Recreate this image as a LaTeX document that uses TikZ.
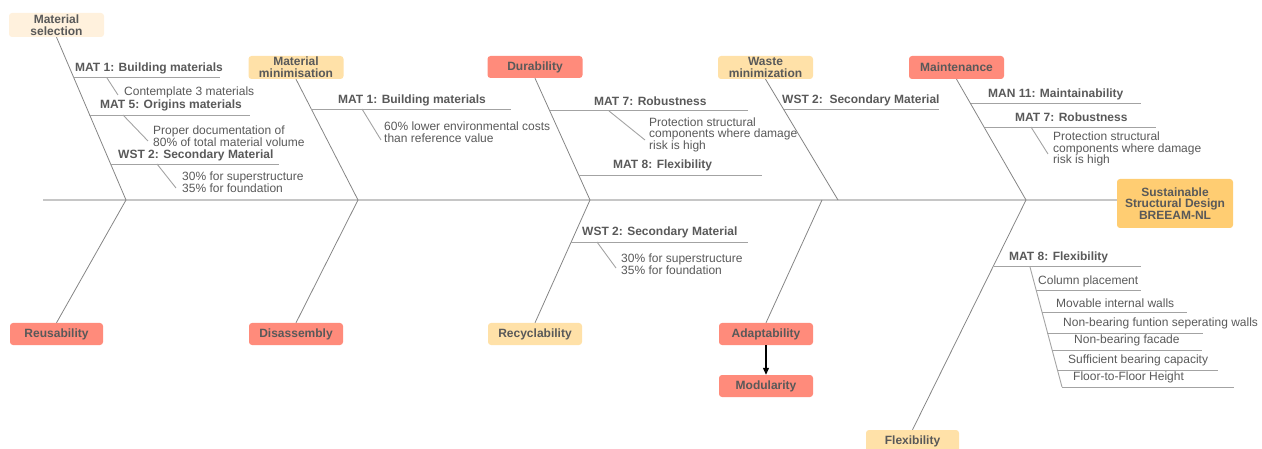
\documentclass[tikz,border=0pt]{standalone}
\usepackage{fontspec}
\setmainfont{Liberation Sans}
\usetikzlibrary{arrows.meta}

\definecolor{salmon}{HTML}{FF8B7B}
\definecolor{paleorange}{HTML}{FFE1A8}
\definecolor{cream}{HTML}{FFF1DD}
\definecolor{headorange}{HTML}{FFCD72}
\definecolor{txtgray}{HTML}{595959}
\definecolor{bonegray}{HTML}{858585}
\definecolor{twiggray}{HTML}{A3A3A3}
\definecolor{spinegray}{HTML}{C6C6C6}

\tikzset{
  catbox/.style={rounded corners=3pt, minimum width=95pt, minimum height=23pt,
    inner sep=1pt, align=center, font=\bfseries\fontsize{12}{11.8}\selectfont},
  code/.style={anchor=west, inner sep=0pt, font=\bfseries\fontsize{12}{11.8}\selectfont},
  note/.style={anchor=west, inner sep=0pt, align=left},
  spine/.style={draw=spinegray, line width=1.6pt},
  bone/.style={draw=bonegray, line width=0.8pt},
  twig/.style={draw=twiggray, line width=0.9pt},
}

\begin{document}
\begin{tikzpicture}[x=1pt, y=-1pt, text=txtgray, font=\fontsize{12}{11.6}\selectfont]

  \useasboundingbox (0,0) rectangle (1262,449);

  % -- Head and spine --
  \node[catbox, fill=headorange, minimum width=116pt, minimum height=49pt] (head) at (1175,203.5)
    {Sustainable\\Structural Design\\BREEAM-NL};
  \coordinate (tail) at (43,200);
  \draw[spine] (tail) -- (tail -| head.west);

  % -- Joints on the spine --
  \coordinate (j1) at (126,200);
  \coordinate (j2) at (358,200);
  \coordinate (j3) at (590,200);
  \coordinate (j4) at (838,200);
  \coordinate (j4b) at (822,200);
  \coordinate (j5) at (1026,200);

  % -- Category boxes (top) --
  \node[catbox, fill=cream, minimum height=24pt] (matsel) at (56.5,25) {Material\\selection};
  \node[catbox, fill=paleorange] (matmin) at (296,67.5) {Material\\minimisation};
  \node[catbox, fill=salmon, minimum height=22pt] (durab) at (535,67) {Durability};
  \node[catbox, fill=paleorange] (wastemin) at (765.5,67.5) {Waste\\minimization};
  \node[catbox, fill=salmon] (maint) at (956.5,67.5) {Maintenance};

  % -- Category boxes (bottom) --
  \node[catbox, fill=salmon, minimum width=93pt, minimum height=22pt] (reuse) at (56.5,334) {Reusability};
  \node[catbox, fill=salmon, minimum width=94pt, minimum height=22pt] (disas) at (296,334) {Disassembly};
  \node[catbox, fill=paleorange, minimum width=94pt, minimum height=22pt] (recyc) at (535,334) {Recyclability};
  \node[catbox, fill=salmon, minimum width=94pt, minimum height=22pt] (adapt) at (766,334) {Adaptability};
  \node[catbox, fill=salmon, minimum width=94pt, minimum height=22pt] (modul) at (766,386) {Modularity};
  \node[catbox, fill=paleorange, minimum width=93pt, minimum height=22pt] (flex) at (912.5,441) {Flexibility};

  % -- Bones --
  \draw[bone] (matsel.south) -- (j1) -- (reuse.north);
  \draw[bone] (matmin.south) -- (j2) -- (disas.north);
  \draw[bone] (durab.south) -- (j3) -- (recyc.north);
  \draw[bone] (wastemin.south) -- (j4);
  \draw[bone] (j4b) -- (adapt.north);
  \draw[bone] (maint.south) -- (j5) -- (flex.north);
  \draw[-{Triangle[length=7pt, width=6pt]}, line width=1.2pt, black] (adapt.south) -- (modul.north);

  % -- Material selection --
  \node[code] (ms1) at (75,68) {MAT 1: Building materials};
  \draw[twig] (73,77) -- (220,77);
  \draw[twig] (107,78) -- (118,95);
  \node[note] (ms1n) at (124,92) {Contemplate 3 materials};
  \node[code] (ms2) at (100,105) {MAT 5: Origins materials};
  \draw[twig] (89,115) -- (250,115);
  \draw[twig] (123,115) -- (148,141);
  \node[note] (ms2n) at (153,136.5) {Proper documentation of\\80\% of total material volume};
  \node[code] (ms3) at (118,155) {WST 2: Secondary Material};
  \draw[twig] (111,164) -- (279,164);
  \draw[twig] (157,164) -- (176,188);
  \node[note] (ms3n) at (182,182.5) {30\% for superstructure\\35\% for foundation};

  % -- Material minimisation --
  \node[code] (mm1) at (338,100) {MAT 1: Building materials};
  \draw[twig] (311,109) -- (511,109);
  \draw[twig] (362,109) -- (381,140);
  \node[note] (mm1n) at (384,132.5) {60\% lower environmental costs\\than reference value};

  % -- Durability --
  \node[code] (du1) at (594,101) {MAT 7: Robustness};
  \draw[twig] (550,110) -- (748,110);
  \draw[twig] (609,111) -- (645,140);
  \node[note] (du1n) at (649,134.5) {Protection structural\\components where damage\\risk is high};
  \node[code] (du2) at (613,165) {MAT 8: Flexibility};
  \draw[twig] (579,175) -- (762,175);

  % -- Recyclability --
  \node[code] (rc1) at (582,232) {WST 2: Secondary Material};
  \draw[twig] (571,242) -- (748,242);
  \draw[twig] (597,242) -- (616,268);
  \node[note] (rc1n) at (621,264) {30\% for superstructure\\35\% for foundation};

  % -- Waste minimization --
  \node[code] (wm1) at (782,100) {WST 2:\ \ Secondary Material};
  \draw[twig] (784,109) -- (939,109);

  % -- Maintenance --
  \node[code] (mt1) at (988,94) {MAN 11: Maintainability};
  \draw[twig] (971,103) -- (1141,103);
  \node[code] (mt2) at (1015,117) {MAT 7: Robustness};
  \draw[twig] (985,127) -- (1156,127);
  \draw[twig] (1031,127) -- (1048,154);
  \node[note] (mt2n) at (1053,149) {Protection structural\\components where damage\\risk is high};

  % -- Flexibility --
  \node[code] (fl1) at (1009,257) {MAT 8: Flexibility};
  \draw[twig] (994,266) -- (1141,266);
  \draw[twig] (1030,267) -- (1062,387);
  \foreach \txt/\tx/\ty/\ly/\lx/\ex [count=\i] in {
      Column placement/1038/281/290/1036/1141,
      Movable internal walls/1056/303/312/1042/1187,
      Non-bearing funtion seperating walls/1063/323/333/1047/1203,
      Non-bearing facade/1074/340/350/1052/1202,
      Sufficient bearing capacity/1068/360/370/1057/1218,
      Floor-to-Floor Height/1073/377/387/1062/1234} {
    \node[note] (fl\i) at (\tx,\ty) {\txt};
    \draw[twig] (\lx,\ly) -- (\ex,\ly);
  }

\end{tikzpicture}
\end{document}
